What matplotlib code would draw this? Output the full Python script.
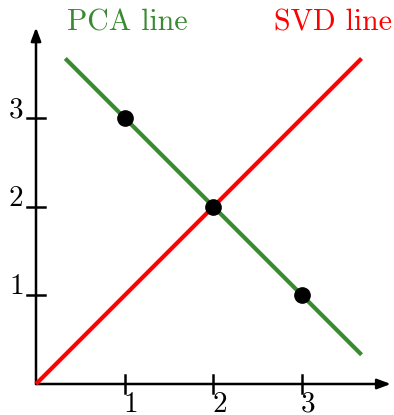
import matplotlib.pyplot as plt
import numpy as np

plt.rcParams['font.family'] = ['cmr10', 'DejaVu Serif']
plt.rcParams['axes.formatter.use_mathtext'] = True

# data
px = [1, 2, 3]
py = [3, 2, 1]
pca_x = [0.33, 3.67]
pca_y = [3.67, 0.33]
svd_x = [0, 3.67]
svd_y = [0, 3.67]
ticks = [1, 2, 3]

green = '#3a8a32'
red = '#ff0000'

fig = plt.figure(figsize=(3.94, 4.15), dpi=100)
ax = fig.add_axes([0, 0, 1, 1])
u = 88.7
ax.set_xlim(-36 / u, (394 - 36) / u)
ax.set_ylim(-(415 - 384) / u, 384 / u)
ax.axis('off')

# axes with arrows
arrow = dict(arrowstyle='-|>,head_length=0.8,head_width=0.3', color='black', lw=1.8,
             shrinkA=0, shrinkB=0)
ax.annotate('', xy=(4.0, 0), xytext=(0, 0), arrowprops=arrow)
ax.annotate('', xy=(0, 4.02), xytext=(0, 0), arrowprops=arrow)

for t in ticks:
    ax.plot([t, t], [-0.1, 0.1], color='black', lw=1.8)
    ax.plot([-0.1, 0.1], [t, t], color='black', lw=1.8)
    ax.text(t + 0.07, -0.085, str(t), ha='center', va='top', fontsize=21)
    ax.text(-0.14, t + 0.01, str(t), ha='right', va='baseline', fontsize=21)

ax.plot(svd_x, svd_y, color=red, lw=3, solid_capstyle='butt', zorder=3)
ax.plot(pca_x, pca_y, color=green, lw=3, solid_capstyle='butt', zorder=4)
ax.plot(px, py, 'o', color='black', markersize=11, zorder=5)

ax.text(0.35, 3.98, 'PCA line', color=green, fontsize=21.5, ha='left', va='baseline')
ax.text(4.01, 3.98, 'SVD line', color=red, fontsize=21.5, ha='right', va='baseline')

fig.savefig('out.png', dpi=100)
